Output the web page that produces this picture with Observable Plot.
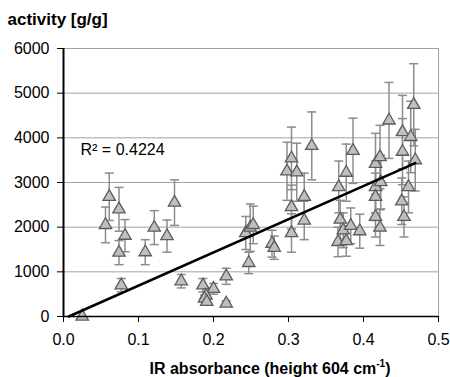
<!DOCTYPE html>
<html><head><meta charset="utf-8">
<script src="https://cdn.jsdelivr.net/npm/d3@7"></script>
<script src="https://cdn.jsdelivr.net/npm/@observablehq/plot@0.6"></script>
<style>body{margin:0;background:#fff} svg{display:block}</style>
</head><body><div id="chart"></div>
<script>
// IR absorbance (x), activity (y) and error bar half-widths
const absorbance = [0.025,0.056,0.061,0.074,0.082,0.074,0.077,0.109,0.121,0.138,0.148,0.157,
  0.186,0.200,0.190,0.188,0.191,0.217,0.217,0.247,0.243,0.249,0.253,0.278,0.281,
  0.304,0.298,0.311,0.304,0.304,0.321,0.321,0.331,0.367,0.377,0.386,0.369,0.373,0.383,0.395,0.366,0.377,
  0.416,0.422,0.416,0.423,0.416,0.416,0.422,0.434,0.452,0.463,0.467,0.452,0.469,0.460,0.451,0.454];
const activity = [0,2050,2680,2400,1810,1430,700,1440,1990,1800,2550,790,
  700,620,470,400,330,900,290,1200,1870,1990,2050,1630,1540,
  3540,3250,3230,2450,1870,2680,2150,3820,2900,3220,3710,2170,1930,2030,1910,1670,1690,
  3420,3570,2900,3010,2680,2230,1990,4390,4130,4020,4740,3690,3500,2900,2580,2230];
const errors = [0,400,530,490,360,270,150,280,380,360,510,150,
  150,120,90,80,70,180,60,240,370,530,420,300,260,
  700,650,650,490,430,530,430,760,580,640,730,430,390,400,380,330,340,
  680,710,580,600,530,450,400,850,820,800,920,740,690,580,520,450];
const xTicks = [0, 0.1, 0.2, 0.3, 0.4, 0.5];
const yTicks = [0, 1000, 2000, 3000, 4000, 5000, 6000];
const gridLines = [1000, 2000, 3000, 4000, 5000, 6000];
const trendX = [0.007, 0.469];
const trendY = [0, 3435];
const r2Label = "R² = 0.4224";
const yTitle = "activity [g/g]";
const xTitleMain = "IR absorbance (height 604 cm";
const xTitleSup = "-1";

const points = absorbance.map((x, i) => ({x, y: activity[i], e: errors[i]}));
const bars = points.filter(d => d.e > 0);
const caps = bars.flatMap(d => [{x: d.x, y: d.y - d.e}, {x: d.x, y: d.y + d.e}]);
const trend = trendX.map((x, i) => ({x, y: trendY[i]}));
const capSymbol = {draw(c) { c.moveTo(-4.5, 0); c.lineTo(4.5, 0); }};

const chart = Plot.plot({
  width: 450, height: 377,
  marginLeft: 63, marginRight: 12, marginTop: 48, marginBottom: 61,
  style: {fontFamily: "'Liberation Sans', Arial, sans-serif", fontSize: "16px", color: "#000", background: "#fff"},
  x: {domain: [0, 0.5]},
  y: {domain: [0, 6000]},
  marks: [
    Plot.ruleY(gridLines, {stroke: "#a3a3a3", strokeWidth: 1}),
    Plot.ruleX([0.5], {stroke: "#a3a3a3", strokeWidth: 1}),
    Plot.ruleX(bars, {x: "x", y1: d => d.y - d.e, y2: d => d.y + d.e, stroke: "#8c8c8c", strokeWidth: 1.5}),
    Plot.dot(caps, {x: "x", y: "y", symbol: capSymbol, r: 3, fill: "none", stroke: "#8c8c8c", strokeWidth: 1.5}),
    Plot.dot(points, {x: "x", y: "y", symbol: "triangle", r: 4.6, fill: "#bfbfbf", stroke: "#5c5c5c", strokeWidth: 1.3}),
    Plot.line(trend, {x: "x", y: "y", stroke: "#000", strokeWidth: 2.5}),
    Plot.ruleY([0], {stroke: "#000", strokeWidth: 1.3}),
    Plot.ruleX([0], {stroke: "#000", strokeWidth: 2}),
    Plot.axisX({ticks: xTicks, tickFormat: d => d.toFixed(1), tickSize: 6, tickPadding: 11, label: null, stroke: "#000", fontSize: 16}),
    Plot.axisY({ticks: yTicks, tickFormat: d3.format("d"), tickSize: 6, tickPadding: 8, label: null, stroke: "#000", fontSize: 16}),
    Plot.text([r2Label], {x: 0.0227, y: 3722, text: d => d, textAnchor: "start", lineAnchor: "middle", fontSize: 16, fill: "#000"}),
    Plot.text([yTitle], {frameAnchor: "top-left", dx: -56, dy: -24, text: d => d, textAnchor: "start", lineAnchor: "bottom", fontWeight: "bold", fontSize: 17, fill: "#000"})
  ]
});

const svg = d3.select(chart);
const t = svg.append("text")
  .attr("x", 270).attr("y", 374)
  .attr("text-anchor", "middle")
  .attr("font-weight", "bold")
  .attr("font-size", 16)
  .attr("fill", "#000");
t.append("tspan").text(xTitleMain);
t.append("tspan").attr("font-size", 10).attr("dy", -7).text(xTitleSup);
t.append("tspan").attr("dy", 7).text(")");

document.getElementById("chart").appendChild(chart);
</script>
</body></html>
